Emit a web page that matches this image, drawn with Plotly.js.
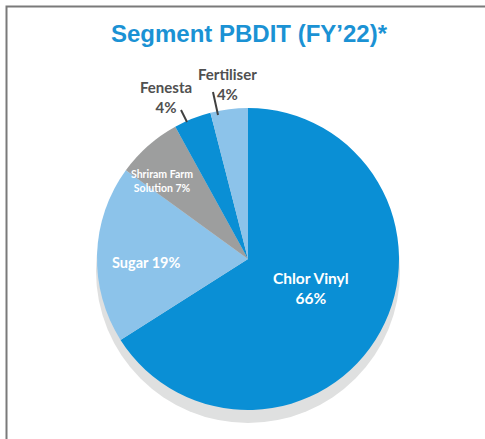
<!DOCTYPE html>
<html>
<head>
<meta charset="utf-8">
<script src="https://cdn.plot.ly/plotly-3.0.1.min.js"></script>
<style>
  html, body { margin: 0; padding: 0; background: #fff; }
  #chart { width: 485px; height: 439px; }
</style>
</head>
<body>
<div id="chart"></div>
<script>
// segment share of PBDIT, FY'22 (clockwise from 12 o'clock)
var segments = ['Chlor Vinyl', 'Sugar', 'Shriram Farm Solution', 'Fenesta', 'Fertiliser'];
var shares = [66, 19, 7, 4, 4];
var sliceColors = ['#0a8fd5', '#8cc3ea', '#9d9e9e', '#0a8fd5', '#8cc3ea'];

var W = 485, H = 439;
function px(x) { return x / W; }
function py(y) { return 1 - y / H; }

// label text per slice
function labelText(i) {
  var pct = shares[i] + '%';
  if (i === 0) return segments[i] + '<br>' + pct;
  if (i === 2) return 'Shriram Farm<br>Solution ' + pct;
  if (i === 3 || i === 4) return segments[i] + '<br>' + pct;
  return segments[i] + ' ' + pct;
}

var labelPos = [
  {x: 311, y: 288, size: 15.5, color: '#ffffff'},
  {x: 146, y: 262, size: 14.5, color: '#ffffff'},
  {x: 162, y: 181, size: 10.5, color: '#ffffff'},
  {x: 166, y: 97, size: 15, color: '#505050'},
  {x: 227, y: 84, size: 15, color: '#505050'}
];

var annotations = labelPos.map(function (p, i) {
  return {
    xref: 'paper', yref: 'paper', x: px(p.x), y: py(p.y),
    xanchor: 'center', yanchor: 'middle', showarrow: false,
    text: '<b>' + labelText(i) + '</b>',
    font: {family: 'Lato, sans-serif', size: p.size, color: p.color}
  };
});

var trace = {
  type: 'pie',
  labels: segments,
  values: shares,
  sort: false,
  direction: 'clockwise',
  rotation: 0,
  textinfo: 'none',
  marker: {colors: sliceColors, line: {width: 0}},
  domain: {x: [px(97), px(399)], y: [py(410), py(108)]},
  showlegend: false
};

var layout = {
  width: W, height: H,
  margin: {l: 0, r: 0, t: 0, b: 0},
  paper_bgcolor: '#ffffff',
  title: {
    text: 'Segment PBDIT (FY’22)*',
    x: px(249), xanchor: 'center', y: py(34), yanchor: 'middle',
    font: {family: 'Liberation Sans, Arial, sans-serif', size: 24, color: '#1b92d4', weight: 'bold'}
  },
  shapes: [
    // frame
    {type: 'rect', xref: 'paper', yref: 'paper', x0: px(6.5), x1: 1.05, y0: -0.05, y1: py(6.5),
     line: {color: '#7a7a7a', width: 2}, fillcolor: 'rgba(0,0,0,0)', layer: 'below'},
    // drop shadow under the pie
    {type: 'circle', xref: 'paper', yref: 'paper', x0: px(96), x1: px(400), y0: py(423), y1: py(119),
     line: {width: 0}, fillcolor: '#dfe0e0', layer: 'below'},
    // leader lines
    {type: 'line', xref: 'paper', yref: 'paper', x0: px(181), y0: py(110), x1: px(187), y1: py(122),
     line: {color: '#404040', width: 2}},
    {type: 'line', xref: 'paper', yref: 'paper', x0: px(213), y0: py(92), x1: px(218), y1: py(115),
     line: {color: '#404040', width: 2}}
  ],
  annotations: annotations
};

Plotly.newPlot('chart', [trace], layout, {displayModeBar: false, staticPlot: true});
</script>
</body>
</html>
